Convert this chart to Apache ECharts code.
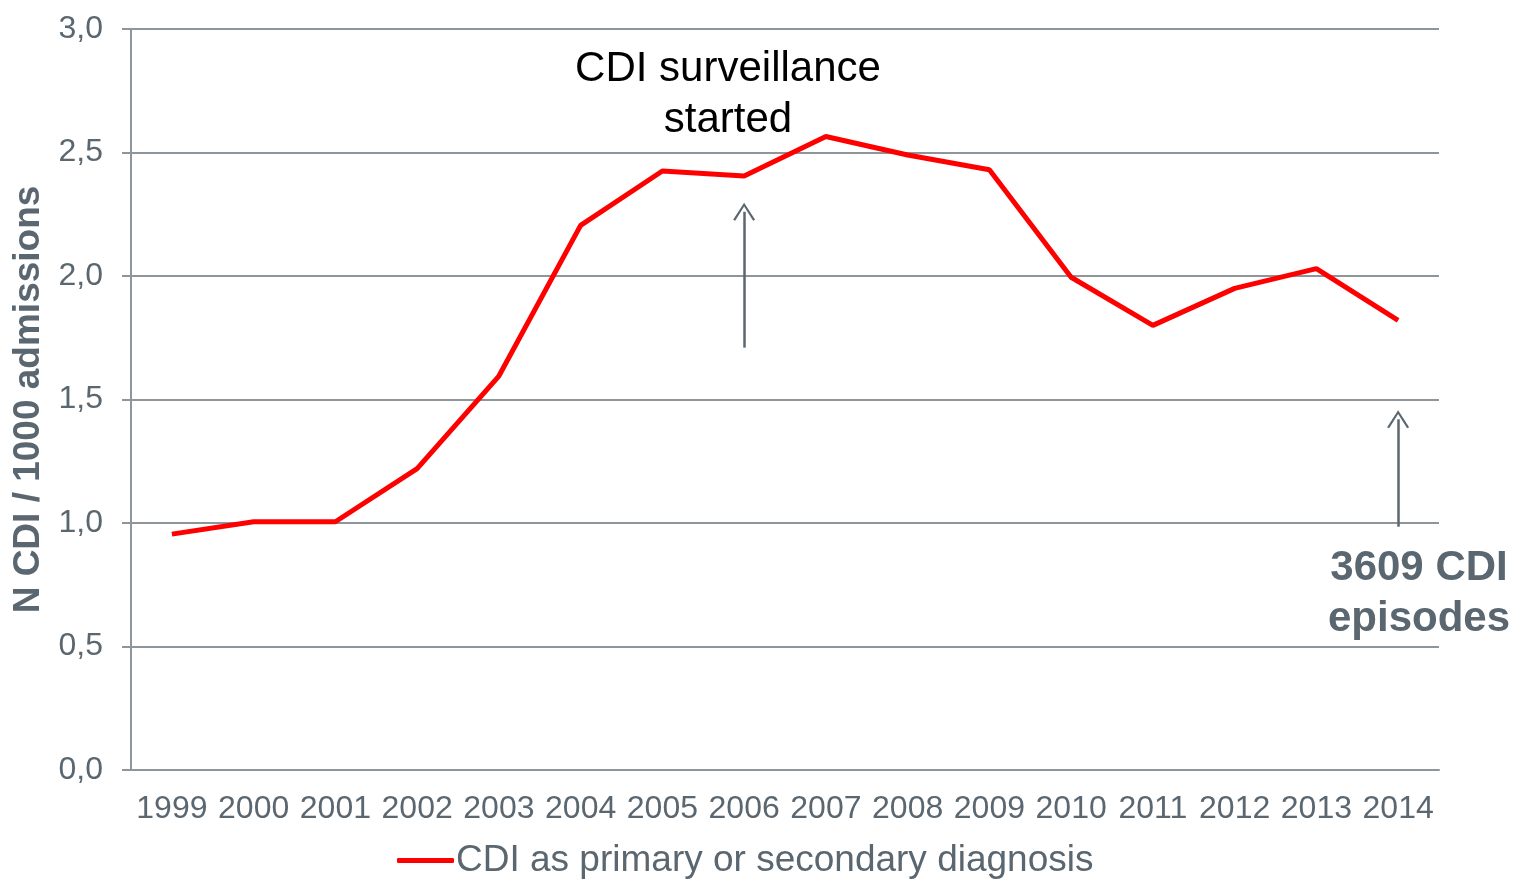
<!DOCTYPE html>
<html>
<head>
<meta charset="utf-8">
<script src="https://cdn.jsdelivr.net/npm/echarts@6/dist/echarts.min.js"></script>
<style>
html,body{margin:0;padding:0;background:#fff;}
#chart{width:1515px;height:880px;}
</style>
</head>
<body>
<div id="chart"></div>
<script>
const years = ['1999','2000','2001','2002','2003','2004','2005','2006','2007','2008','2009','2010','2011','2012','2013','2014'];
const cdiRate = [0.955, 1.005, 1.005, 1.22, 1.595, 2.205, 2.425, 2.405, 2.565, 2.49, 2.43, 1.995, 1.80, 1.95, 2.03, 1.82];
const yTicks = [0, 0.5, 1.0, 1.5, 2.0, 2.5, 3.0];
const seriesName = 'CDI as primary or secondary diagnosis';
const arrowSurveillance = [['2006', 1.71], ['2006', 2.26]];
const arrowEpisodes = [['2014', 0.985], ['2014', 1.42]];

const gray = '#5b6770';
const gridGray = '#8e969b';
const font = 'Liberation Sans, Arial, sans-serif';
const chevron = 'path://M0,12 L6,0 L12,12 L10.9,12.7 L6,2.6 L1.1,12.7 Z';

const chart = echarts.init(document.getElementById('chart'));
chart.setOption({
  animation: false,
  backgroundColor: '#fff',
  grid: { left: 131, right: 76, top: 29, bottom: 110, outerBoundsMode: 'none', containLabel: false },
  legend: {
    bottom: -4, left: 392,
    icon: 'roundRect', itemWidth: 57, itemHeight: 5, itemGap: 0,
    textStyle: { color: gray, fontSize: 37, fontFamily: font, padding: [0,0,0,-3] },
    data: [seriesName]
  },
  xAxis: {
    type: 'category', data: years, boundaryGap: true,
    axisLine: { lineStyle: { color: gridGray, width: 2 } },
    axisTick: { alignWithLabel: false, length: 10, lineStyle: { color: gridGray, width: 2 } },
    axisLabel: { color: gray, fontSize: 32, fontFamily: font, margin: 23, interval: 0 }
  },
  yAxis: {
    type: 'value', min: 0, max: 3, interval: 0.5,
    name: 'N CDI / 1000 admissions', nameLocation: 'middle', nameGap: 80, nameRotate: 90,
    nameTextStyle: { color: gray, fontSize: 37, fontWeight: 'bold', fontFamily: font },
    axisLine: { show: true, lineStyle: { color: gridGray, width: 2 } },
    axisTick: { show: true, length: 9, lineStyle: { color: gridGray, width: 2 } },
    splitLine: { lineStyle: { color: gridGray, width: 2 } },
    axisLabel: { color: gray, fontSize: 32, fontFamily: font, margin: 28,
      formatter: v => yTicks.includes(v) ? v.toFixed(1).replace('.', ',') : '' }
  },
  series: [{
    name: seriesName, type: 'line', data: cdiRate,
    symbol: 'none', color: '#ff0000',
    lineStyle: { color: '#ff0000', width: 5 },
    markLine: {
      silent: true, animation: false,
      symbol: ['none', chevron], symbolSize: [22, 18], symbolOffset: [0, 0],
      label: { show: false },
      lineStyle: { color: '#5b6770', width: 2.5, type: 'solid' },
      data: [
        [{ coord: arrowSurveillance[0] }, { coord: arrowSurveillance[1] }],
        [{ coord: arrowEpisodes[0] }, { coord: arrowEpisodes[1] }]
      ]
    }
  }],
  graphic: [
    { type: 'text', x: 728, y: 95, style: { text: 'CDI surveillance\nstarted', fill: '#000', fontSize: 42, fontFamily: font, align: 'center', verticalAlign: 'middle', lineHeight: 51 } },
    { type: 'text', x: 1419, y: 594, style: { text: '3609 CDI\nepisodes', fill: gray, fontSize: 42, fontWeight: 'bold', fontFamily: font, align: 'center', verticalAlign: 'middle', lineHeight: 51 } }
  ]
});
</script>
</body>
</html>
